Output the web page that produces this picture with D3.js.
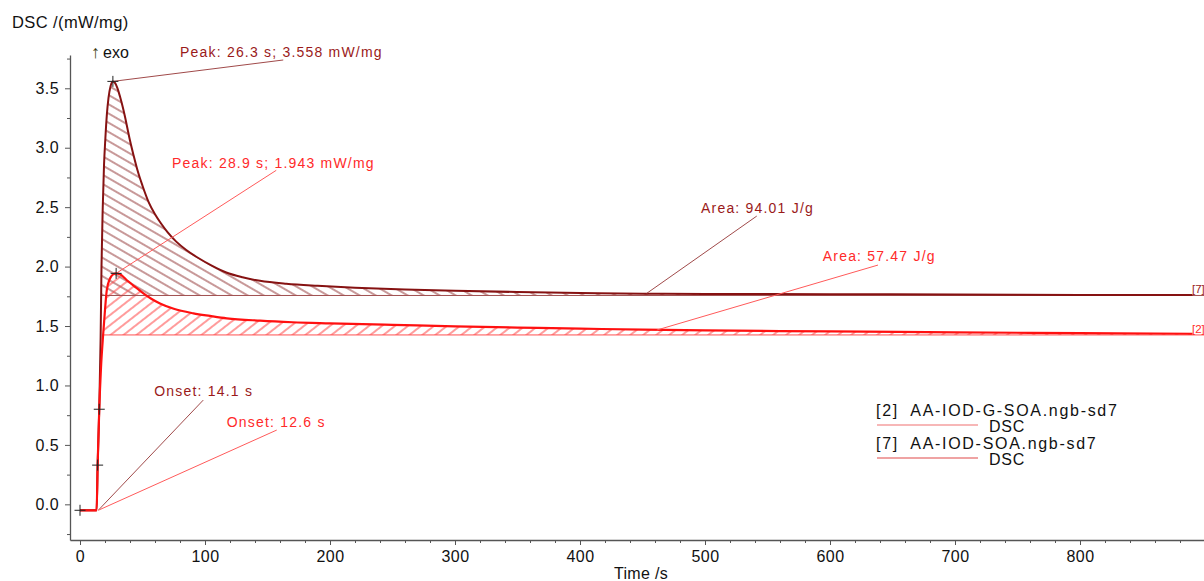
<!DOCTYPE html>
<html>
<head>
<meta charset="utf-8">
<script src="https://cdn.jsdelivr.net/npm/d3@7"></script>
<style>
  html, body { margin: 0; padding: 0; background: #fff; }
  svg { display: block; font-family: "Liberation Sans", Arial, sans-serif; }
  text { white-space: pre; }
</style>
</head>
<body>
<script>
// ---------------- data ----------------
const timeDark = [0, 5, 10, 13.3, 14.1, 15.4, 16.5, 17.2, 18.2, 19.2, 20.3, 21.5, 22.8, 24.5, 26.3, 28, 30, 32, 34, 36, 38, 40, 43, 46, 50, 55, 60, 65, 70, 77, 85, 95, 105, 117, 130, 144, 165, 190, 220, 260, 300, 350, 400, 450, 500, 600, 700, 800, 890];
const dscDark  = [-0.05, -0.05, -0.05, -0.05, 0.33, 0.80, 1.40, 2.00, 2.50, 2.85, 3.08, 3.28, 3.42, 3.52, 3.558, 3.545, 3.50, 3.43, 3.35, 3.26, 3.16, 3.06, 2.93, 2.81, 2.68, 2.54, 2.44, 2.36, 2.29, 2.21, 2.14, 2.07, 2.01, 1.95, 1.91, 1.88, 1.855, 1.838, 1.823, 1.808, 1.797, 1.786, 1.778, 1.772, 1.770, 1.768, 1.765, 1.762, 1.760];

const timeRed = [0, 5, 10, 13.3, 14.1, 15.4, 16.8, 18.6, 20, 21.4, 24, 26.5, 28.9, 32, 37.3, 44, 50.7, 57, 64, 75, 90.7, 104, 117.4, 144, 170, 200, 250, 300, 350, 400, 450, 500, 600, 700, 800, 890];
const dscRed  = [-0.05, -0.05, -0.05, -0.05, 0.33, 0.80, 1.15, 1.44, 1.635, 1.80, 1.90, 1.935, 1.943, 1.935, 1.887, 1.83, 1.775, 1.73, 1.69, 1.645, 1.607, 1.585, 1.565, 1.545, 1.532, 1.523, 1.51, 1.497, 1.487, 1.478, 1.470, 1.463, 1.455, 1.447, 1.440, 1.435];

const baselineDark = 1.757;
const baselineRed = 1.425;
const tEnd = 899.2;

const xTicks = [0, 100, 200, 300, 400, 500, 600, 700, 800];
const xMinor = d3.range(0, 900, 20).filter(d => d % 100 !== 0);
const yTicks = [0, 0.5, 1.0, 1.5, 2.0, 2.5, 3.0, 3.5];
const yMinor = [-0.25, 0.25, 0.75, 1.25, 1.75, 2.25, 2.75, 3.25, 3.75];

const peakTimes = [26.3, 28.9];
const peakValues = [3.558, 1.943];
const onsetTimes = [14.1, 12.6];
const areaValues = [94.01, 57.47];
const riseMarkTimes = [14.1, 15.4];
const riseMarkValues = [0.33, 0.80];
const startMark = { t: 0, v: -0.05 };

const legendFiles = ["[2]  AA-IOD-G-SOA.ngb-sd7", "[7]  AA-IOD-SOA.ngb-sd7"];
const legendSignal = "DSC";
const endTags = ["[7]", "[2]"];

// ---------------- layout / style ----------------
const W = 1204, H = 581;
const colDark = "#861212", colDarkAnn = "#a04a4a", colDarkText = "#9a1a1a";
const colRed = "#ff1010", colRedAnn = "#ff5a5a", colRedText = "#ff2a2a";

const x = d3.scaleLinear().domain([-8, tEnd]).range([70, 1204]);
const y = d3.scaleLinear().domain([-0.3, 3.78]).range([540, 55]);

const svg = d3.select("body").append("svg").attr("width", W).attr("height", H);

// hatch patterns
const defs = svg.append("defs");
function hatch(id, angle, color) {
  const p = defs.append("pattern").attr("id", id).attr("patternUnits", "userSpaceOnUse")
    .attr("width", 8).attr("height", 8).attr("patternTransform", `rotate(${angle})`);
  p.append("line").attr("x1", -1).attr("y1", 4).attr("x2", 9).attr("y2", 4)
    .attr("stroke", color).attr("stroke-width", 1.1);
}
hatch("hatchDark", 30, "#9a4444");
hatch("hatchRed", -38, "#ff4a4a");

const darkPts = timeDark.map((t, i) => ({ t, v: dscDark[i] }));
const redPts = timeRed.map((t, i) => ({ t, v: dscRed[i] }));

function crossing(pts, base) {
  for (let i = 1; i < pts.length; i++) {
    if (pts[i - 1].v < base && pts[i].v >= base) {
      const a = pts[i - 1], b = pts[i];
      return a.t + (base - a.v) / (b.v - a.v) * (b.t - a.t);
    }
  }
  return pts[0].t;
}
function areaPts(pts, base) {
  const tc = crossing(pts, base);
  return [{ t: tc, v: base }].concat(pts.filter(p => p.t > tc));
}

const curve = d3.curveMonotoneX;
const lineGen = d3.line().x(d => x(d.t)).y(d => y(d.v)).curve(curve);

function drawArea(pts, base, fill) {
  const ap = areaPts(pts, base);
  const gen = d3.area().x(d => x(d.t)).y0(y(base)).y1(d => y(Math.max(d.v, base))).curve(curve);
  svg.append("path").attr("d", gen(ap)).attr("fill", fill).attr("stroke", "none");
  return ap[0].t;
}
const tcDark = drawArea(darkPts, baselineDark, "url(#hatchDark)");
const tcRed = drawArea(redPts, baselineRed, "url(#hatchRed)");

// baselines
svg.append("line").attr("x1", x(tcDark)).attr("x2", x(tEnd)).attr("y1", y(baselineDark)).attr("y2", y(baselineDark))
  .attr("stroke", "#a05050").attr("stroke-width", 1);
svg.append("line").attr("x1", x(tcRed)).attr("x2", x(tEnd)).attr("y1", y(baselineRed)).attr("y2", y(baselineRed))
  .attr("stroke", "#ff5050").attr("stroke-width", 1);

// axes
const axG = svg.append("g");
axG.append("g").attr("transform", `translate(${x.range()[0]},0)`)
  .call(d3.axisLeft(y).tickValues(yTicks).tickFormat(d3.format(".1f")).tickSize(5).tickSizeOuter(0).tickPadding(6));
axG.append("g").attr("transform", `translate(${x.range()[0]},0)`)
  .call(d3.axisLeft(y).tickValues(yMinor).tickFormat("").tickSize(3).tickSizeOuter(0))
  .select(".domain").remove();
axG.append("g").attr("transform", `translate(0,${y.range()[0]})`)
  .call(d3.axisBottom(x).tickValues(xTicks).tickFormat(d3.format("d")).tickSize(5).tickSizeOuter(0).tickPadding(6));
axG.append("g").attr("transform", `translate(0,${y.range()[0]})`)
  .call(d3.axisBottom(x).tickValues(xMinor).tickFormat("").tickSize(3).tickSizeOuter(0))
  .select(".domain").remove();
axG.selectAll(".domain").attr("stroke", "#555").attr("stroke-width", 1.3);
axG.selectAll(".tick line").attr("stroke", "#555");
axG.selectAll(".tick text").attr("fill", "#111").style("font-size", "16px").style("letter-spacing", "0.4px")
  .style("font-family", "'Liberation Sans', Arial, sans-serif");

svg.append("text").attr("x", 12).attr("y", 28).text("DSC /(mW/mg)")
  .style("font-size", "16.5px").style("letter-spacing", "0.4px").attr("fill", "#111");
svg.append("text").attr("x", 614).attr("y", 579).text("Time /s")
  .style("font-size", "16px").style("letter-spacing", "0.3px").attr("fill", "#111");
const exo = svg.append("text").attr("x", 91).attr("y", 58).style("font-size", "16px").attr("fill", "#111");
exo.append("tspan").attr("fill", "#3a3a10").style("font-size", "18px").text("↑");
exo.append("tspan").attr("dx", 3).text("exo");

// curves
svg.append("path").attr("d", lineGen(darkPts)).attr("fill", "none").attr("stroke", colDark).attr("stroke-width", 2);
svg.append("path").attr("d", lineGen(redPts)).attr("fill", "none").attr("stroke", colRed).attr("stroke-width", 2.2);

// annotations (label positions in data space)
const annFont = { size: "14px", ls: "1.2px" };
const annotations = [
  { text: `Peak: ${peakTimes[0]} s; ${peakValues[0].toFixed(3)} mW/mg`, color: colDarkText, lc: colDarkAnn,
    from: [peakTimes[0], peakValues[0]], to: [162.6, 3.738], label: [80, 3.763] },
  { text: `Peak: ${peakTimes[1]} s; ${peakValues[1].toFixed(3)} mW/mg`, color: colRedText, lc: colRedAnn,
    from: [peakTimes[1], peakValues[1]], to: [157, 2.81], label: [73.6, 2.83] },
  { text: `Area: ${areaValues[0].toFixed(2)} J/g`, color: colDarkText, lc: colDarkAnn,
    from: [453.4, 1.775], to: [541.4, 2.425], label: [496.8, 2.451] },
  { text: `Area: ${areaValues[1].toFixed(2)} J/g`, color: colRedText, lc: colRedAnn,
    from: [461.4, 1.466], to: [638.4, 2.013], label: [594.2, 2.047] },
  { text: `Onset: ${onsetTimes[0]} s`, color: colDarkText, lc: colDarkAnn,
    from: [14.6, -0.05], to: [98.6, 0.877], label: [59.4, 0.911] },
  { text: `Onset: ${onsetTimes[1]} s`, color: colRedText, lc: colRedAnn,
    from: [14.6, -0.05], to: [157.4, 0.625], label: [117.4, 0.650] },
];
const annG = svg.append("g");
annotations.forEach(a => {
  annG.append("line").attr("x1", x(a.from[0])).attr("y1", y(a.from[1])).attr("x2", x(a.to[0])).attr("y2", y(a.to[1]))
    .attr("stroke", a.lc).attr("stroke-width", 1);
  annG.append("text").attr("x", x(a.label[0])).attr("y", y(a.label[1])).text(a.text)
    .attr("fill", a.color).style("font-size", annFont.size).style("letter-spacing", annFont.ls);
});

// cross markers
const marks = [startMark, { t: peakTimes[0], v: peakValues[0] }, { t: peakTimes[1], v: peakValues[1] }]
  .concat(riseMarkTimes.map((t, i) => ({ t, v: riseMarkValues[i] })));
const mG = svg.append("g").attr("stroke", "#222").attr("stroke-width", 1);
marks.forEach(m => {
  const cx = x(m.t), cy = y(m.v);
  mG.append("line").attr("x1", cx - 5.5).attr("x2", cx + 5.5).attr("y1", cy).attr("y2", cy);
  mG.append("line").attr("x1", cx).attr("x2", cx).attr("y1", cy - 5.5).attr("y2", cy + 5.5);
});

// end tags
[[baselineDark, endTags[0], colDarkText], [baselineRed, endTags[1], colRedText]].forEach(([b, t, c]) => {
  svg.append("text").attr("x", 1192).attr("y", y(b) - 2).text(t).attr("fill", c)
    .style("font-size", "11.5px").style("font-family", "'Liberation Sans Narrow', 'Liberation Sans', sans-serif");
});

// legend
const lg = svg.append("g").style("font-size", "16px").style("letter-spacing", "1.7px").attr("fill", "#111");
legendFiles.forEach((f, i) => {
  const y0 = 416 + i * 33;
  lg.append("text").attr("x", 876).attr("y", y0).text(f);
  lg.append("line").attr("x1", 877).attr("x2", 978).attr("y1", y0 + 9).attr("y2", y0 + 9)
    .attr("stroke", i === 0 ? "#f07070" : "#e04848").attr("stroke-width", 1.2);
  lg.append("text").attr("x", 989).attr("y", y0 + 16).style("letter-spacing", "0.8px").text(legendSignal);
});
</script>
</body>
</html>
